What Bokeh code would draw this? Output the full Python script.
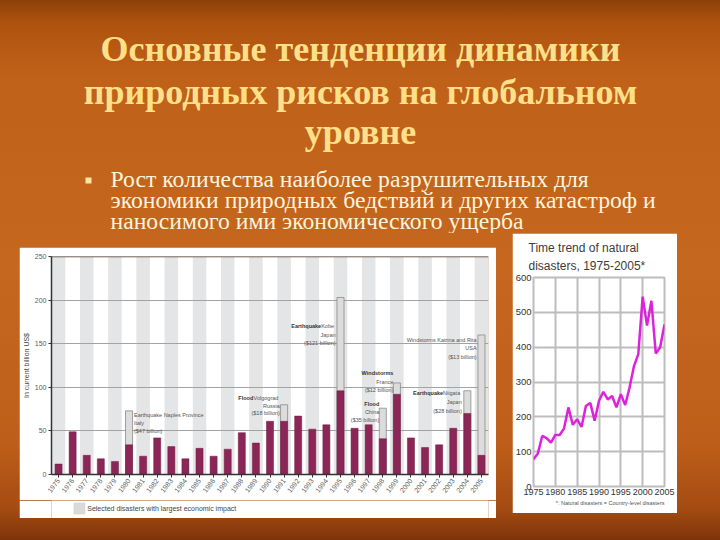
import math
from bokeh.plotting import figure
from bokeh.layouts import column, row
from bokeh.models import (Range1d, Spacer, Title, Span, FixedTicker)
from bokeh.core.properties import value
from bokeh.embed import file_html
from bokeh.resources import INLINE

# ---------------- data ----------------
title_lines = ["Основные тенденции динамики",
               "природных рисков на глобальном",
               "уровне"]
bullet_lines = ["Рост количества наиболее разрушительных для",
                "экономики природных бедствий и других катастроф и",
                "наносимого ими экономического ущерба"]

years = list(range(1975, 2006))
losses = [12, 49, 22, 18, 15, 34, 21, 42, 32, 18, 30, 21, 29, 48, 36,
          61, 61, 67, 52, 57, 96, 53, 57, 41, 92, 42, 31, 34, 53, 70, 22]
selected_years = [1980, 1991, 1995, 1998, 1999, 2004, 2005]
selected_totals = [73, 80, 203, 76, 105, 96, 160]
bar_y_ticks = [0, 50, 100, 150, 200, 250]
legend_label = "Selected disasters with largest economic impact"

# annotation lines: (x, y, bold part, normal part, align)
ann_lines = [
    (1980.35, 68, "", "Earthquake Naples Province", "left"),
    (1980.35, 59, "", "Italy", "left"),
    (1980.35, 50, "", "($47 billion)", "left"),
    (1990.7, 88, "Flood", " Volgograd", "right"),
    (1990.7, 79, "", "Russia", "right"),
    (1990.7, 70, "", "($18 billion)", "right"),
    (1994.65, 170, "Earthquake", " Kobe", "right"),
    (1994.65, 160.5, "", "Japan", "right"),
    (1994.65, 151, "", "($121 billion)", "right"),
    (1997.75, 81, "Flood", "", "right"),
    (1997.75, 71.5, "", "China", "right"),
    (1997.75, 62, "", "($35 billion)", "right"),
    (1998.75, 116, "Windstorms", "", "right"),
    (1998.75, 106, "", "France", "right"),
    (1998.75, 96.5, "", "($12 billion)", "right"),
    (2003.6, 93, "Earthquake", " Niigata", "right"),
    (2003.6, 83, "", "Japan", "right"),
    (2003.6, 73, "", "($28 billion)", "right"),
    (2004.66, 154, "", "Windstorms Katrina and Rita", "right"),
    (2004.66, 144.5, "", "USA", "right"),
    (2004.66, 135, "", "($13 billion)", "right"),
]

count_years = list(range(1975, 2006))
disaster_counts = [78, 95, 145, 139, 126, 148, 148, 167, 227, 177, 193, 171,
                   231, 240, 189, 246, 272, 250, 260, 227, 265, 234, 284,
                   345, 380, 545, 462, 533, 382, 400, 465]
line_x_ticks = [1975, 1980, 1985, 1990, 1995, 2000, 2005]
line_y_ticks = [0, 100, 200, 300, 400, 500, 600]
line_title = "Time trend of natural\ndisasters, 1975-2005*"
line_note = "*: Natural disasters = Country-level disasters"

SANS = "Liberation Sans"
SERIF = "Liberation Serif"
TOP_H = 233
ANN_SIZE = 5.5

_AW = {" ": 278, "K": 667, "V": 667, "N": 722, "l": 222, "i": 222, "t": 278,
       "r": 333, "s": 500, "c": 500, "J": 500, "F": 611, "R": 722}


def text_w(s, size):
    return sum(_AW.get(ch, 556) for ch in s) / 1000.0 * size


def clear(p):
    p.background_fill_alpha = 0
    p.border_fill_alpha = 0
    p.outline_line_color = None
    return p


# ---------------- top: title & bullet ----------------
pt = figure(width=720, height=TOP_H, x_range=Range1d(0, 720), y_range=Range1d(TOP_H, 0),
            x_axis_type=None, y_axis_type=None, min_border=0,
            output_backend="svg", toolbar_location=None)
clear(pt)
pt.grid.visible = False
pt.text(x=[360, 360, 360], y=[48, 91, 131], text=title_lines,
        text_align="center", text_baseline="middle",
        text_font=value(SERIF), text_font_style="bold",
        text_font_size="36px", text_color="#FFE08A")
pt.scatter(x=[88], y=[180], marker="square", size=6,
           fill_color="#FFE6A0", line_color=None)
pt.text(x=[110, 110, 110], y=[178, 199.5, 220], text=bullet_lines,
        text_align="left", text_baseline="middle",
        text_font=value(SERIF), text_font_size="23.7px", text_color="#FFF4DE")

# ---------------- bar chart ----------------
pb = figure(width=477, height=253, x_range=Range1d(1974.5, 2005.5),
            y_range=Range1d(0, 250),
            min_border_left=29, min_border_right=8, min_border_top=9,
            min_border_bottom=26, output_backend="svg", toolbar_location=None)
pb.background_fill_color = "white"
pb.border_fill_color = "white"
pb.outline_line_color = None

band_years = years[::2]
bands = pb.vbar(x=band_years, top=250, bottom=0, width=0.96,
                fill_color="#e4e5e6", line_color=None)
bands.level = "image"

pb.xgrid.visible = False
pb.ygrid.ticker = FixedTicker(ticks=bar_y_ticks[1:-1])
pb.ygrid.grid_line_color = "#a3a3a3"
pb.ygrid.grid_line_width = 1.2

pb.vbar(x=selected_years, top=selected_totals, bottom=0, width=0.5,
        fill_color="#dcdcdc", line_color="#8a8a8a", line_width=0.8)
pb.vbar(x=years, top=losses, bottom=0, width=0.5,
        fill_color="#8b2656", line_color="#6e1b42", line_width=0.5)

pb.add_layout(Span(location=250, dimension="width", line_color="#444444",
                   line_width=1.3))

for (ax, ay, bold, normal, aal) in ann_lines:
    if normal:
        pb.text(x=[ax], y=[ay], text=[normal], text_align=aal, text_baseline="middle",
                text_font=value(SANS), text_font_size=f"{ANN_SIZE}px",
                text_color="#555555")
    if bold:
        pb.text(x=[ax], y=[ay], text=[bold], text_align="right", text_baseline="middle",
                x_offset=-text_w(normal, ANN_SIZE),
                text_font=value(SANS), text_font_size=f"{ANN_SIZE}px",
                text_font_style="bold", text_color="#333333")

pb.yaxis.ticker = FixedTicker(ticks=bar_y_ticks)
pb.yaxis.axis_label = "In current billion US$"
pb.yaxis.axis_label_text_font = SANS
pb.yaxis.axis_label_text_font_size = "7px"
pb.yaxis.axis_label_text_font_style = "normal"
pb.yaxis.axis_label_text_color = "#444444"
pb.yaxis.axis_label_standoff = 2
pb.xaxis.ticker = FixedTicker(ticks=years)
pb.xaxis.major_label_orientation = math.radians(52)
for ax_ in (pb.xaxis, pb.yaxis):
    ax_.axis_line_color = "#333333"
    ax_.axis_line_width = 1.5
    ax_.major_tick_line_color = "#333333"
    ax_.major_tick_out = 3
    ax_.major_tick_in = 0
    ax_.minor_tick_line_color = None
    ax_.major_label_text_font = SANS
    ax_.major_label_text_font_size = "7px"
    ax_.major_label_text_color = "#5a5a5a"
    ax_.major_label_standoff = 2

# legend strip under the bar chart (key swatch + label, in panel pixels)
pg = figure(width=477, height=18, x_range=Range1d(19, 496), y_range=Range1d(518, 500),
            x_axis_type=None, y_axis_type=None, min_border=0,
            output_backend="svg", toolbar_location=None)
pg.background_fill_color = "white"
pg.border_fill_color = "white"
pg.outline_line_color = None
pg.grid.visible = False
pg.scatter(x=[49.5], y=[508], marker="square", size=11,
           fill_color="#dadada", line_color="#cfcfcf", line_width=0.5)
pg.text(x=[58], y=[508], text=[legend_label], text_align="left",
        text_baseline="middle", text_font=value(SANS), text_font_size="7px",
        text_color="#444444")

# ---------------- line chart ----------------
pl = figure(width=165, height=513 - TOP_H, x_range=Range1d(1975, 2005),
            y_range=Range1d(0, 600),
            min_border_left=20, min_border_right=13, min_border_top=44,
            min_border_bottom=27, output_backend="svg", toolbar_location=None)
pl.background_fill_color = "white"
pl.border_fill_color = "white"
pl.outline_line_color = "#bdbdbd"
pl.outline_line_width = 2
pl.xgrid.ticker = FixedTicker(ticks=line_x_ticks)
pl.ygrid.ticker = FixedTicker(ticks=line_y_ticks)
pl.grid.grid_line_color = "#bdbdbd"
pl.grid.grid_line_width = 2
pl.line(x=count_years, y=disaster_counts, line_color="#DD22DD", line_width=2.5)

pl.xaxis.ticker = FixedTicker(ticks=line_x_ticks)
pl.yaxis.ticker = FixedTicker(ticks=line_y_ticks)
for ax_ in (pl.xaxis, pl.yaxis):
    ax_.axis_line_color = None
    ax_.major_tick_line_color = None
    ax_.major_tick_out = 0
    ax_.major_tick_in = 0
    ax_.minor_tick_line_color = None
    ax_.minor_tick_out = 0
    ax_.major_label_text_font = SANS
    ax_.major_label_text_color = "#333333"
    ax_.major_label_standoff = 2
pl.xaxis.major_label_text_font_size = "9px"
pl.yaxis.major_label_text_font_size = "9.5px"

pl.add_layout(Title(text=line_title, align="left", offset=-5,
                    text_font=SANS, text_font_size="12px",
                    text_font_style="normal", text_color="#3c3c3c",
                    text_line_height=1.3, standoff=9), "above")
pl.add_layout(Title(text=line_note,
                    align="right", text_font=SANS, text_font_size="5.5px",
                    text_font_style="normal", text_color="#555555",
                    standoff=1), "below")

# ---------------- layout ----------------
BH = 540 - TOP_H
bottom = row(
    Spacer(width=19, height=BH),
    column(Spacer(width=477, height=247 - TOP_H), pb, pg,
           Spacer(width=477, height=540 - 518)),
    Spacer(width=16, height=BH),
    column(pl, Spacer(width=165, height=540 - 513)),
    Spacer(width=43, height=BH),
)
layout = column(pt, bottom, styles={
    "background": "linear-gradient(180deg, #8c4109 0%, #ad520e 4%, #c0611a 14%, "
                  "#c5671f 50%, #bd5f1a 82%, #a54c12 94%, #7e340a 100%)"})

open("out.html", "w").write(file_html(layout, INLINE))
